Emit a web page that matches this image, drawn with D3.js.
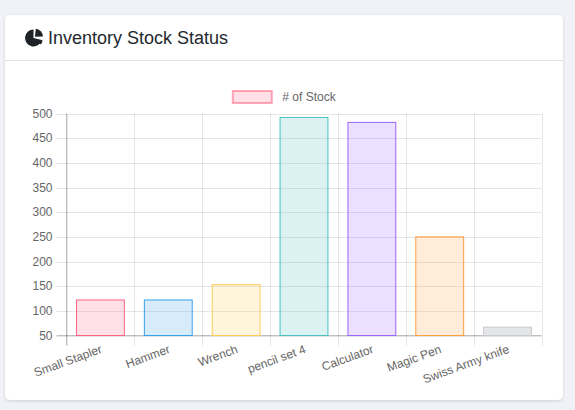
<!DOCTYPE html>
<html>
<head>
<meta charset="utf-8">
<script src="https://cdn.jsdelivr.net/npm/d3@7"></script>
<style>
  html, body { margin: 0; padding: 0; background: #f1f2f7; }
  svg { display: block; font-family: "Helvetica Neue", Helvetica, Arial, "Liberation Sans", sans-serif; }
</style>
</head>
<body>
<div id="chart"></div>
<script>
// chart data
const categories = ['Small Stapler', 'Hammer', 'Wrench', 'pencil set 4', 'Calculator', 'Magic Pen', 'Swiss Army knife'];
const stockValues = [122, 122, 153, 492, 482, 250, 67];
const fillColors = ['rgba(255,99,132,0.2)', 'rgba(54,162,235,0.2)', 'rgba(255,205,86,0.2)', 'rgba(75,192,192,0.2)',
  'rgba(153,102,255,0.2)', 'rgba(255,159,64,0.2)', 'rgba(201,203,207,0.5)'];
const borderColors = ['rgb(255,99,132)', 'rgb(54,162,235)', 'rgb(255,205,86)', 'rgb(75,192,192)',
  'rgb(153,102,255)', 'rgb(255,159,64)', 'rgb(201,203,207)'];
const yTicks = [50, 100, 150, 200, 250, 300, 350, 400, 450, 500];
const seriesName = '# of Stock';
const title = 'Inventory Stock Status';

var width = 575;
var height = 410;

var svg = d3.select('#chart')
  .append('svg')
  .attr('width', width)
  .attr('height', height);

// card with shadow
var defs = svg.append('defs');
var shadow = defs.append('filter').attr('id', 'shadow').attr('x', '-5%').attr('y', '-5%').attr('width', '110%').attr('height', '110%');
shadow.append('feDropShadow').attr('dx', 0).attr('dy', 1).attr('stdDeviation', 1.5).attr('flood-color', '#000').attr('flood-opacity', 0.15);

svg.append('rect')
  .attr('x', 5).attr('y', 15)
  .attr('width', 558).attr('height', 385)
  .attr('rx', 5)
  .attr('fill', '#fff')
  .attr('filter', 'url(#shadow)');

svg.append('line')
  .attr('x1', 5).attr('x2', 563)
  .attr('y1', 60.5).attr('y2', 60.5)
  .attr('stroke', '#e1e3e8');

// pie icon in header
var icon = svg.append('g').attr('transform', 'translate(33.5,38)');
icon.append('path')
  .attr('d', d3.arc().innerRadius(0).outerRadius(8.5)({ startAngle: Math.PI / 2 + 0.25, endAngle: Math.PI * 2 }))
  .attr('fill', '#1f2328');
icon.append('path')
  .attr('transform', 'translate(1.4,-1.2)')
  .attr('d', d3.arc().innerRadius(0).outerRadius(8)({ startAngle: 0.12, endAngle: Math.PI / 2 - 0.05 }))
  .attr('fill', '#1f2328');
icon.append('path')
  .attr('transform', 'translate(1.6,1.4)')
  .attr('d', d3.arc().innerRadius(0).outerRadius(7.5)({ startAngle: Math.PI / 2 + 0.1, endAngle: Math.PI / 2 + 0.75 }))
  .attr('fill', '#1f2328');

svg.append('text')
  .attr('x', 48).attr('y', 44)
  .attr('font-size', 18)
  .attr('fill', '#23282e')
  .text(title);

// scales
var plotLeft = 66.5, plotRight = 541.5, plotTop = 113.5, plotBottom = 335.5;

var x = d3.scaleBand()
  .domain(categories)
  .range([plotLeft, plotRight])
  .paddingInner(0.28)
  .paddingOuter(0.14);

var y = d3.scaleLinear()
  .domain([50, 500])
  .range([plotBottom, plotTop]);

var step = x.step();
var plot = svg.append('g');

// horizontal grid + y ticks
plot.selectAll('.hgrid')
  .data(yTicks)
  .enter()
  .append('line')
  .attr('x1', plotLeft - 10).attr('x2', plotRight)
  .attr('y1', d => Math.round(y(d)) + 0.5).attr('y2', d => Math.round(y(d)) + 0.5)
  .attr('stroke', 'rgba(0,0,0,0.1)');

plot.selectAll('.ylab')
  .data(yTicks)
  .enter()
  .append('text')
  .attr('x', plotLeft - 14)
  .attr('y', d => y(d))
  .attr('dy', '0.35em')
  .attr('text-anchor', 'end')
  .attr('font-size', 12)
  .attr('fill', '#666')
  .text(d => d);

// vertical grid lines at category boundaries
var vlines = d3.range(categories.length + 1).map(i => plotLeft + i * step);
plot.selectAll('.vgrid')
  .data(vlines)
  .enter()
  .append('line')
  .attr('x1', d => Math.round(d) + 0.5).attr('x2', d => Math.round(d) + 0.5)
  .attr('y1', plotTop).attr('y2', plotBottom + 10)
  .attr('stroke', 'rgba(0,0,0,0.1)');

// axis lines
plot.append('line')
  .attr('x1', plotLeft).attr('x2', plotLeft)
  .attr('y1', plotTop).attr('y2', plotBottom + 10)
  .attr('stroke', 'rgba(0,0,0,0.25)');
plot.append('line')
  .attr('x1', plotLeft - 10).attr('x2', plotRight)
  .attr('y1', plotBottom).attr('y2', plotBottom)
  .attr('stroke', 'rgba(0,0,0,0.25)');

// bars
plot.selectAll('.bar')
  .data(stockValues)
  .enter()
  .append('rect')
  .attr('x', (d, i) => x(categories[i]) + 0.5)
  .attr('y', d => y(d))
  .attr('width', x.bandwidth() - 1)
  .attr('height', d => plotBottom - y(d))
  .attr('fill', (d, i) => fillColors[i])
  .attr('stroke', (d, i) => borderColors[i])
  .attr('stroke-width', 1);

// x labels, rotated
plot.selectAll('.xlab')
  .data(categories)
  .enter()
  .append('text')
  .attr('transform', d => 'translate(' + (x(d) + x.bandwidth() / 2 + 1) + ',' + (plotBottom + 13) + ') rotate(-20)')
  .attr('text-anchor', 'end')
  .attr('dy', '0.35em')
  .attr('font-size', 12)
  .attr('fill', '#666')
  .text(d => d);

// legend
var legend = svg.append('g');
var legendText = legend.append('text')
  .attr('x', 50).attr('y', 97)
  .attr('dy', '0.35em')
  .attr('font-size', 12)
  .attr('fill', '#666')
  .text(seriesName);
legend.append('rect')
  .attr('x', 0.5).attr('y', 91)
  .attr('width', 39).attr('height', 12)
  .attr('fill', fillColors[0])
  .attr('stroke', 'rgba(255,99,132,0.55)')
  .attr('stroke-width', 2);
var legendWidth = 50 + legendText.node().getComputedTextLength();
legend.attr('transform', 'translate(' + (284 - legendWidth / 2) + ',0)');
</script>
</body>
</html>
